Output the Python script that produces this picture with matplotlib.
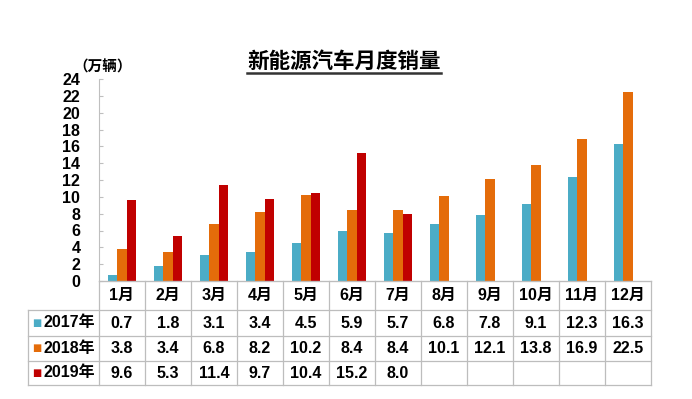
import matplotlib
matplotlib.use('Agg')
import matplotlib.pyplot as plt
import numpy as np
from matplotlib.lines import Line2D

plt.rcParams['font.family'] = ['Liberation Sans', 'Noto Sans CJK SC', 'DejaVu Sans']

# 数据
months = ['1月', '2月', '3月', '4月', '5月', '6月', '7月', '8月', '9月', '10月', '11月', '12月']
years = ['2017年', '2018年', '2019年']
sales_2017 = [0.7, 1.8, 3.1, 3.4, 4.5, 5.9, 5.7, 6.8, 7.8, 9.1, 12.3, 16.3]
sales_2018 = [3.8, 3.4, 6.8, 8.2, 10.2, 8.4, 8.4, 10.1, 12.1, 13.8, 16.9, 22.5]
sales_2019 = [9.6, 5.3, 11.4, 9.7, 10.4, 15.2, 8.0]
colors = ['#4BACC6', '#E46C0A', '#C00000']

W, H = 692, 399
fig = plt.figure(figsize=(W / 100, H / 100), dpi=100)

# 主图 (像素位置换算)
ax_l, ax_r, ax_t, ax_b = 99, 651, 79, 281
ax = fig.add_axes([ax_l / W, 1 - ax_b / H, (ax_r - ax_l) / W, (ax_b - ax_t) / H])

x = np.arange(len(months))
slot = 0.215
series = [sales_2017, sales_2018, sales_2019]
for k, (vals, c) in enumerate(zip(series, colors)):
    xs = x[:len(vals)] + (k - 1) * slot
    ax.bar(xs, vals, width=0.2, color=c, linewidth=0)

ax.set_xlim(-0.5, len(months) - 0.5)
ax.set_ylim(0, 24)
ax.set_yticks(np.arange(0, 25, 2))
ax.set_xticks([])
for s in ['top', 'right']:
    ax.spines[s].set_visible(False)
for s in ['left', 'bottom']:
    ax.spines[s].set_color('#BFBFBF')
    ax.spines[s].set_linewidth(0.8)
ax.tick_params(axis='y', direction='in', length=3, color='#BFBFBF', pad=13.5,
               labelsize=11.5)
for lb in ax.get_yticklabels():
    lb.set_fontweight('bold')

# 单位
fig.text(73 / W, 1 - 67 / H, '（万辆）', fontsize=10.5, fontweight='bold',
         ha='left', va='center')

# 标题 + 下划线
fig.text(344 / W, 1 - 62 / H, '新能源汽车月度销量', fontsize=15.5, fontweight='bold',
         ha='center', va='center')
fig.add_artist(Line2D([247 / W, 441 / W], [1 - 73 / H, 1 - 73 / H], color='#333333',
                      lw=1.8, transform=fig.transFigure))

# 表格
tb_l, tb_b = 28, 385
tax = fig.add_axes([tb_l / W, 1 - tb_b / H, (ax_r - tb_l) / W, (tb_b - ax_b) / H])
lab_w = (ax_l - tb_l) / ((ax_r - ax_l) / len(months))
tax.set_xlim(-0.5 - lab_w, len(months) - 0.5)
rows = [0, 29, 55, 80, 104]
tax.set_ylim(rows[-1], rows[0])
tax.axis('off')

grid_c = '#BDBDBD'
left = -0.5 - lab_w
right = len(months) - 0.5
for i, r in enumerate(rows):
    x0 = -0.5 if i == 0 else left
    tax.plot([x0, right], [r, r], color=grid_c, lw=0.9, clip_on=False)
for j in range(len(months) + 1):
    tax.plot([j - 0.5, j - 0.5], [rows[0], rows[-1]], color=grid_c, lw=0.9, clip_on=False)
tax.plot([left, left], [rows[1], rows[-1]], color=grid_c, lw=0.9, clip_on=False)

for j, m in enumerate(months):
    tax.text(j, (rows[0] + rows[1]) / 2, m, ha='center', va='center',
             fontsize=11.5, fontweight='bold')

for i, (yr, vals, c) in enumerate(zip(years, series, colors)):
    yc = (rows[i + 1] + rows[i + 2]) / 2
    tax.text(left + 0.1, yc, '■', color=c, fontsize=7, ha='left', va='center',
             family=['DejaVu Sans'])
    tax.text(left + 0.33, yc, yr, ha='left', va='center', fontsize=11.5, fontweight='bold')
    for j, v in enumerate(vals):
        tax.text(j, yc, f'{v:.1f}', ha='center', va='center', fontsize=11.5,
                 fontweight='bold')

fig.savefig('out.png', dpi=100, facecolor='white')
